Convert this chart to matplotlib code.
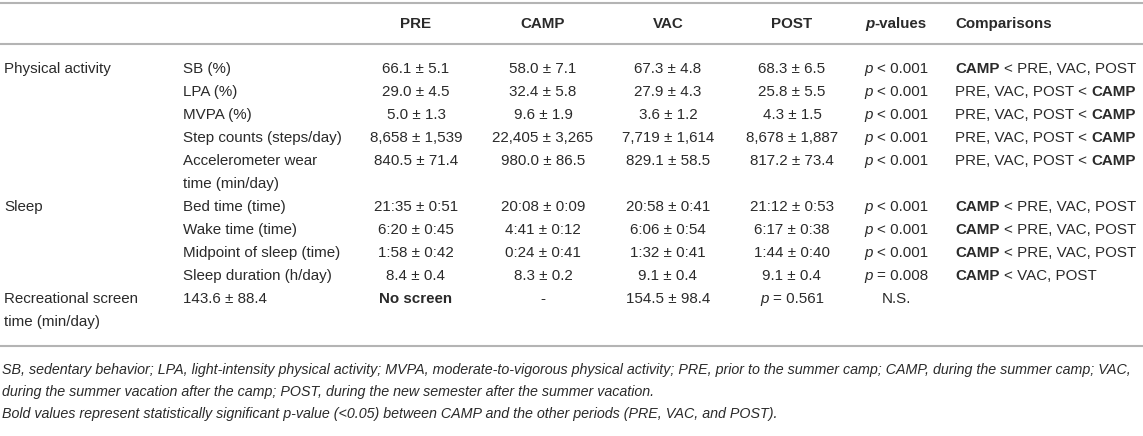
import matplotlib
matplotlib.use("Agg")
import matplotlib.pyplot as plt

# ---- table content ----
header = ["PRE", "CAMP", "VAC", "POST"]
groups = ["Physical activity", "Sleep", "Recreational screen\ntime (min/day)"]
variables = ["SB (%)", "LPA (%)", "MVPA (%)", "Step counts (steps/day)",
             "Accelerometer wear\ntime (min/day)", "Bed time (time)",
             "Wake time (time)", "Midpoint of sleep (time)", "Sleep duration (h/day)"]
pre = ["66.1 ± 5.1", "29.0 ± 4.5", "5.0 ± 1.3", "8,658 ± 1,539", "840.5 ± 71.4",
       "21:35 ± 0:51", "6:20 ± 0:45", "1:58 ± 0:42", "8.4 ± 0.4"]
camp = ["58.0 ± 7.1", "32.4 ± 5.8", "9.6 ± 1.9", "22,405 ± 3,265", "980.0 ± 86.5",
        "20:08 ± 0:09", "4:41 ± 0:12", "0:24 ± 0:41", "8.3 ± 0.2"]
vac = ["67.3 ± 4.8", "27.9 ± 4.3", "3.6 ± 1.2", "7,719 ± 1,614", "829.1 ± 58.5",
       "20:58 ± 0:41", "6:06 ± 0:54", "1:32 ± 0:41", "9.1 ± 0.4"]
post = ["68.3 ± 6.5", "25.8 ± 5.5", "4.3 ± 1.5", "8,678 ± 1,887", "817.2 ± 73.4",
        "21:12 ± 0:53", "6:17 ± 0:38", "1:44 ± 0:40", "9.1 ± 0.4"]
pvals = ["< 0.001"] * 8 + ["= 0.008"]
comparisons = ["CAMP < PRE, VAC, POST", "PRE, VAC, POST < CAMP", "PRE, VAC, POST < CAMP",
               "PRE, VAC, POST < CAMP", "PRE, VAC, POST < CAMP", "CAMP < PRE, VAC, POST",
               "CAMP < PRE, VAC, POST", "CAMP < PRE, VAC, POST", "CAMP < VAC, POST"]
screen_row = ["143.6 ± 88.4", "No screen", "-", "154.5 ± 98.4", "= 0.561", "N.S."]
footnotes = [
    "SB, sedentary behavior; LPA, light-intensity physical activity; MVPA, moderate-to-vigorous "
    "physical activity; PRE, prior to the summer camp; CAMP, during the summer camp; VAC,",
    "during the summer vacation after the camp; POST, during the new semester after the summer vacation.",
    "Bold values represent statistically significant p-value (<0.05) between CAMP and the other "
    "periods (PRE, VAC, and POST).",
]

W, H = 1143, 436
TXT = "#2a2a2a"
LINE = "#b4b4b4"
FS = 10.9
FONT = "Liberation Sans"

fig = plt.figure(figsize=(W / 100, H / 100), dpi=100)
ax = fig.add_axes([0, 0, 1, 1])
ax.set_xlim(0, W)
ax.set_ylim(H, 0)
ax.axis("off")
renderer = fig.canvas.get_renderer()


def text_w(s, **kw):
    t = ax.text(0, 0, s, family=FONT, **kw)
    w = t.get_window_extent(renderer).width
    t.remove()
    return w


def run_width(runs, size):
    sp = text_w("x x", size=size) - text_w("xx", size=size)
    total = 0
    for s, wt, st in runs:
        core = s.strip(" ")
        n_sp = len(s) - len(core)
        total += n_sp * sp
        if core:
            total += text_w(core, size=size, weight=wt, style=st)
    return total, sp


def draw_runs(x, y, runs, ha="left", size=FS):
    total, sp = run_width(runs, size)
    if ha == "center":
        x -= total / 2
    for s, wt, st in runs:
        lead = len(s) - len(s.lstrip(" "))
        trail = len(s) - len(s.rstrip(" "))
        core = s.strip(" ")
        x += lead * sp
        if core:
            ax.text(x, y, core, family=FONT, size=size, weight=wt, style=st,
                    color=TXT, ha="left", va="center")
            x += text_w(core, size=size, weight=wt, style=st)
        x += trail * sp


def bold_camp(s):
    runs = []
    parts = s.split("CAMP")
    for i, p in enumerate(parts):
        if p:
            runs.append((p, "normal", "normal"))
        if i < len(parts) - 1:
            runs.append(("CAMP", "bold", "normal"))
    return runs


# column anchors
x_group = 4
x_var = 183
x_cols = [416, 543, 668, 792]
x_p = 896
x_cmp = 955

y_head = 24
y0 = 69
dy = 23.0


def row_y(i):
    return y0 + dy * i


def hline(y):
    ax.plot([0, W], [y, y], color=LINE, lw=1.5, solid_capstyle="butt")


hline(3)
hline(44)

# header
for x, h in zip(x_cols, header):
    ax.text(x, y_head, h, family=FONT, size=FS, weight="bold", color=TXT,
            ha="center", va="center")
draw_runs(x_p, y_head, [("p", "bold", "italic"), ("-values", "bold", "normal")], ha="center")
draw_runs(x_cmp, y_head, [("Comparisons", "bold", "normal")])

# body rows (accelerometer row takes two text lines)
line_idx = [0, 1, 2, 3, 4, 6, 7, 8, 9]
group_idx = [0, 6, 10]
for g, li in zip(groups, group_idx):
    for k, part in enumerate(g.split("\n")):
        ax.text(x_group, row_y(li + k), part, family=FONT, size=FS, color=TXT,
                ha="left", va="center")

for r, li in enumerate(line_idx):
    y = row_y(li)
    for k, part in enumerate(variables[r].split("\n")):
        ax.text(x_var, row_y(li + k), part, family=FONT, size=FS, color=TXT,
                ha="left", va="center")
    for x, col in zip(x_cols, [pre, camp, vac, post]):
        ax.text(x, y, col[r], family=FONT, size=FS, color=TXT, ha="center", va="center")
    draw_runs(x_p, y, [("p", "normal", "italic"), (" " + pvals[r], "normal", "normal")],
              ha="center")
    draw_runs(x_cmp, y, bold_camp(comparisons[r]))

# recreational screen time row (cells shifted one column left)
y = row_y(10)
ax.text(x_var, y, screen_row[0], family=FONT, size=FS, color=TXT, ha="left", va="center")
ax.text(x_cols[0], y, screen_row[1], family=FONT, size=FS, weight="bold", color=TXT,
        ha="center", va="center")
ax.text(x_cols[1], y, screen_row[2], family=FONT, size=FS, color=TXT, ha="center", va="center")
ax.text(x_cols[2], y, screen_row[3], family=FONT, size=FS, color=TXT, ha="center", va="center")
draw_runs(x_cols[3], y, [("p", "normal", "italic"), (" " + screen_row[4], "normal", "normal")],
          ha="center")
ax.text(x_p, y, screen_row[5], family=FONT, size=FS, color=TXT, ha="center", va="center")

hline(346)

for k, note in enumerate(footnotes):
    ax.text(2, 370 + 22 * k, note, family=FONT, size=10.25, style="italic", color=TXT,
            ha="left", va="center")

fig.savefig("out.png", dpi=100)
